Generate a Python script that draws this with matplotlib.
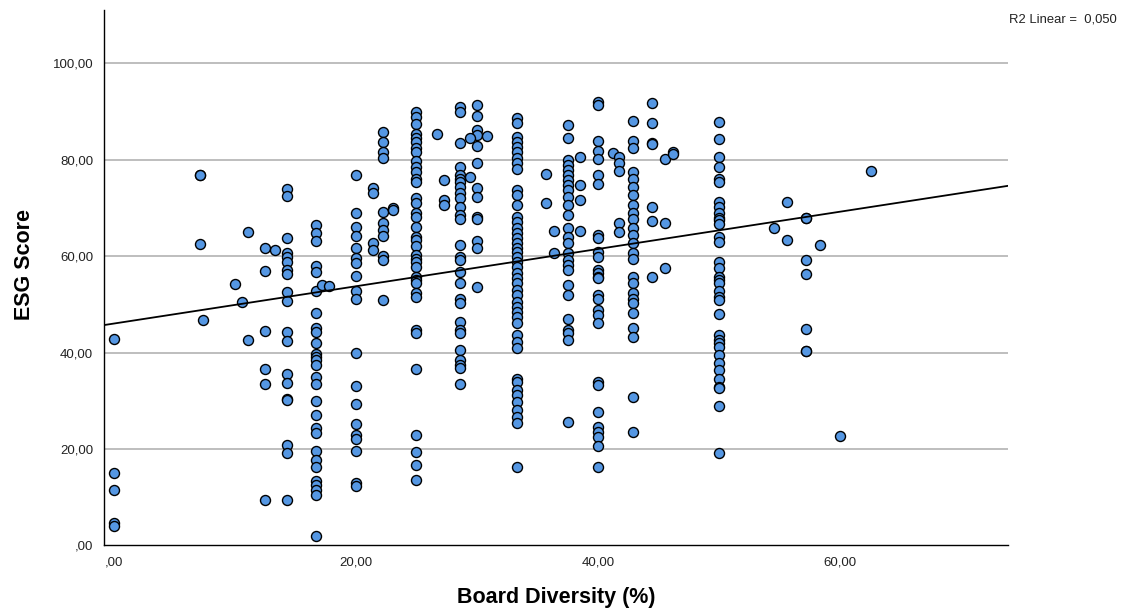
import matplotlib
matplotlib.use("Agg")
import matplotlib.pyplot as plt
import numpy as np
from matplotlib.ticker import FuncFormatter

# ---- data: ESG score by board diversity level (%) ----
esg_at_0 = [42.7, 14.9, 11.5, 4.7, 4.0]
esg_at_12_5 = [61.7, 57.0, 44.5, 36.6, 33.4, 9.4]
esg_at_14_29 = [73.9, 72.5, 63.8, 60.6, 59.9, 58.7, 57.1, 56.2, 52.6, 50.7, 44.3,
                42.3, 35.5, 33.7, 30.3, 30.2, 20.9, 19.1, 9.4]
esg_at_16_67 = [66.5, 64.7, 63.2, 57.9, 56.7, 52.8, 48.1, 45.0, 44.2, 42.0, 39.7,
                39.0, 38.4, 37.4, 34.9, 33.5, 29.9, 27.0, 24.3, 23.4, 19.6, 17.7,
                16.2, 13.4, 12.5, 11.5, 10.4, 2.0]
esg_at_20 = [76.8, 69.0, 66.1, 64.2, 61.6, 59.6, 58.6, 55.9, 52.8, 51.2, 39.9, 33.1,
             29.3, 25.1, 22.9, 22.0, 19.6, 12.9, 12.2]
esg_at_22_22 = [85.8, 83.7, 81.7, 80.4, 69.2, 66.8, 65.4, 64.2, 60.0, 59.2, 50.9]
esg_at_25 = [90.0, 88.8, 87.4, 85.3, 84.6, 83.7, 82.5, 81.5, 79.7, 78.4, 77.5, 76.0,
             75.4, 72.0, 71.0, 68.9, 68.2, 66.1, 64.0, 63.3, 62.0, 60.2, 59.5, 58.8,
             57.8, 55.7, 55.0, 54.4, 52.3, 51.6, 44.7, 44.0, 36.5, 22.9, 19.4, 16.7,
             13.5]
esg_at_28_57 = [91.0, 90.0, 83.4, 78.5, 76.8, 76.1, 75.4, 74.4, 73.0, 72.0, 70.2,
                68.5, 67.8, 62.3, 59.9, 59.2, 56.6, 54.4, 51.2, 50.2, 46.4, 44.7,
                44.0, 40.5, 38.4, 37.4, 36.7, 33.4]
esg_at_30 = [91.3, 89.1, 86.2, 85.1, 82.9, 79.4, 74.1, 72.3, 68.2, 67.8, 63.2, 61.6,
             53.5]
esg_at_33_33 = [88.6, 87.6, 84.8, 83.7, 82.7, 81.7, 80.3, 79.3, 78.0, 73.7, 72.7,
                70.6, 68.2, 67.1, 65.8, 64.7, 63.7, 62.7, 61.6, 60.9, 59.9, 58.8,
                57.8, 56.4, 55.4, 54.4, 53.0, 51.9, 50.5, 49.5, 48.5, 47.4, 46.1,
                43.6, 42.2, 40.9, 34.6, 33.9, 32.2, 31.2, 29.8, 28.1, 26.7, 25.3, 16.3]
esg_at_37_5 = [87.2, 84.4, 79.9, 78.9, 77.9, 76.8, 75.8, 74.8, 73.7, 72.3, 70.6,
               68.5, 65.8, 64.0, 62.7, 60.6, 59.2, 58.2, 57.1, 54.0, 51.9, 46.9,
               44.7, 44.0, 42.6, 25.6]
esg_at_40 = [92.0, 91.3, 83.9, 81.8, 80.1, 76.8, 75.0, 64.4, 63.7, 60.9, 59.9, 57.1,
             56.4, 55.7, 55.4, 51.9, 51.2, 48.8, 47.8, 46.1, 33.9, 33.3, 27.7, 24.6,
             23.6, 22.5, 20.5, 16.3]
esg_at_42_86 = [88.0, 83.9, 82.4, 77.5, 76.1, 74.4, 72.7, 70.6, 68.9, 67.8, 65.8,
                64.4, 62.7, 60.6, 59.5, 55.7, 54.4, 52.3, 51.2, 50.2, 48.1, 45.0,
                43.3, 30.8, 23.6]
esg_at_44_44 = [91.8, 87.6, 83.5, 83.3, 70.2, 67.3, 55.6]
esg_at_50 = [87.8, 84.3, 80.5, 78.4, 76.1, 75.4, 71.3, 70.2, 69.0, 68.0, 67.5, 66.7,
             64.0, 62.9, 58.8, 57.5, 55.7, 55.0, 54.4, 52.8, 51.6, 50.9, 47.9, 43.6,
             42.6, 41.9, 41.2, 39.5, 37.9, 36.4, 34.6, 32.8, 32.6, 28.8, 19.2]
esg_at_57_14 = [68.0, 67.9, 59.2, 56.3, 44.8, 40.4, 40.3]

column_levels = [0, 12.5, 14.29, 16.67, 20, 22.22, 25, 28.57, 30, 33.33, 37.5, 40,
                 42.86, 44.44, 50, 57.14]

# scattered single observations
sparse_diversity = [7.14, 7.14, 7.14, 7.4, 10.0, 10.6, 11.1, 11.1, 13.3, 17.2, 17.8,
                    21.43, 21.43, 21.43, 21.43, 23.1, 23.1, 26.7, 27.27, 27.27, 27.27,
                    29.4, 29.4, 30.8, 35.7, 35.7, 36.4, 36.4, 38.5, 38.5, 38.5, 38.5,
                    41.2, 41.7, 41.7, 41.7, 41.7, 41.7, 45.5, 45.5, 45.5, 46.2, 46.2,
                    54.5, 55.6, 55.6, 58.3, 60.0, 62.5]
sparse_esg = [76.9, 76.8, 62.5, 46.7, 54.3, 50.5, 65.1, 42.6, 61.3, 54.0, 53.8,
              74.1, 73.0, 62.7, 61.3, 69.9, 69.6, 85.3, 75.8, 71.6, 70.6,
              84.4, 76.5, 84.9, 77.0, 71.0, 65.3, 60.6, 80.5, 74.8, 71.6, 65.2,
              81.3, 80.5, 79.3, 77.7, 66.8, 65.1, 80.2, 66.8, 57.6, 81.5, 81.2,
              65.8, 71.2, 63.3, 62.4, 22.7, 77.6]

# fitted linear regression
fit_intercept = 46.0
fit_slope = 0.387
r2_text = "R2 Linear =  0,050"

x_ticks = [0, 20, 40, 60]
y_ticks = [0, 20, 40, 60, 80, 100]

# ---- assemble ----
columns = [esg_at_0, esg_at_12_5, esg_at_14_29, esg_at_16_67, esg_at_20, esg_at_22_22,
           esg_at_25, esg_at_28_57, esg_at_30, esg_at_33_33, esg_at_37_5, esg_at_40,
           esg_at_42_86, esg_at_44_44, esg_at_50, esg_at_57_14]
xs, ys = [], []
for lvl, vals in zip(column_levels, columns):
    xs += [lvl] * len(vals)
    ys += vals
xs += sparse_diversity
ys += sparse_esg

plt.rcParams['font.family'] = ['Liberation Sans', 'DejaVu Sans']

W, H = 1126, 612
fig = plt.figure(figsize=(W / 100, H / 100), dpi=100)
ax = fig.add_axes([103.5 / W, 1 - 545.3 / H, (1008 - 103.5) / W, (545.3 - 10) / H])

xmin, xmax = -0.84, 73.85
ymin, ymax = 0, 111.06
ax.set_xlim(xmin, xmax)
ax.set_ylim(ymin, ymax)

for t in y_ticks[1:]:
    ax.axhline(t, color='#b3b3b3', lw=1.2, zorder=0)

ax.scatter(xs, ys, s=52, facecolor='#5597e3', edgecolor='black', linewidths=1.0, zorder=3)

lx = np.array([xmin, xmax])
ax.plot(lx, fit_intercept + fit_slope * lx, color='black', lw=1.3, zorder=4)

for s in ['top', 'right']:
    ax.spines[s].set_visible(False)
for s in ['left', 'bottom']:
    ax.spines[s].set_color('black')
    ax.spines[s].set_linewidth(1.0)


def comma_fmt(v, p):
    s = f"{v:.2f}".replace('.', ',')
    return s[1:] if s.startswith('0,') else s


fmt = FuncFormatter(comma_fmt)
ax.set_xticks(x_ticks)
ax.set_yticks(y_ticks)
ax.xaxis.set_major_formatter(fmt)
ax.yaxis.set_major_formatter(fmt)
ax.tick_params(axis='both', length=0, labelsize=9.5, colors='#222222')
ax.tick_params(axis='y', pad=7.5)
ax.tick_params(axis='x', pad=8)

fig.text(556 / W, 1 - 598 / H, 'Board Diversity (%)', fontsize=15.5, fontweight='bold',
         ha='center', va='center')
fig.text(25 / W, 1 - 265 / H, 'ESG Score', fontsize=15.5, fontweight='bold',
         ha='center', va='center', rotation=90)

fig.text(1009 / W, 1 - 20 / H, r2_text, fontsize=9.4, va='center', ha='left', color='#222222')

fig.savefig('out.png', dpi=100)
